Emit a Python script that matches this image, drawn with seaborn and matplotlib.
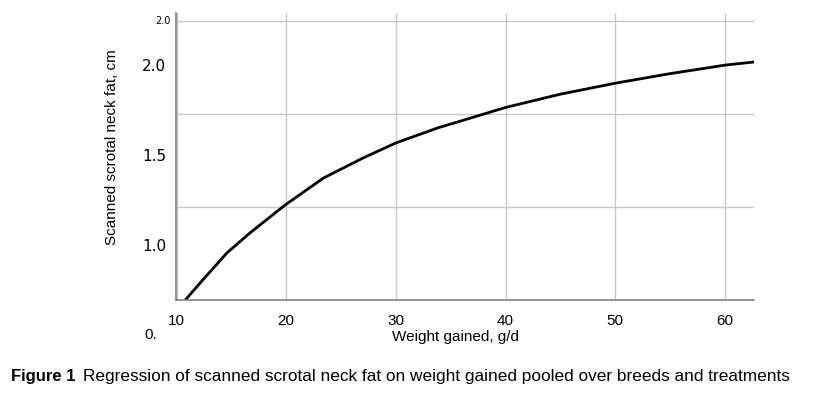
import numpy as np
import pandas as pd
import seaborn as sns
import matplotlib.pyplot as plt

# 数据
weight_gain = [10.8, 12.4, 14.6, 16.7, 19.9, 23.4, 27.0, 30.0, 33.8, 35.0, 40.0, 45.0, 50.1, 55.0, 60.1, 62.7]
neck_fat = [0.694, 0.806, 0.956, 1.067, 1.222, 1.372, 1.483, 1.567, 1.650, 1.672, 1.764, 1.838, 1.900, 1.952, 2.000, 2.017]
x_ticks = [10, 20, 30, 40, 50, 60]
y_ticks = [1.0, 1.5, 2.0]
y_tick_labels = ['1.0', '1.5', '2.0']

df = pd.DataFrame({'gain': weight_gain, 'fat': neck_fat})

sns.set_style('white')
plt.rcParams['font.family'] = ['Liberation Sans', 'DejaVu Sans']
plt.rcParams['text.color'] = 'black'
plt.rcParams['axes.labelcolor'] = 'black'
plt.rcParams['xtick.color'] = 'black'
plt.rcParams['ytick.color'] = 'black'

fig = plt.figure(figsize=(8.14, 3.95), dpi=100)
ax = fig.add_axes([0.2162, 0.2405, 0.7101, 0.7266])

sns.lineplot(data=df, x='gain', y='fat', color='black', linewidth=2.0, ax=ax)

ymin, ymax = 0.694, 2.289
ax.set_xlim(9.95, 62.65)
ax.set_ylim(ymin, ymax)

# 网格线
ax.set_xticks(x_ticks)
ax.set_xticklabels([str(t) for t in x_ticks], fontsize=11)
ax.set_yticks(y_ticks)
ax.set_yticklabels(y_tick_labels, fontsize=11, family='DejaVu Sans')
step = (2.244 - ymin) / 3
grid_y = [ymin + step, ymin + 2 * step, ymin + 3 * step]
ax.set_yticks(grid_y, minor=True)
ax.grid(False)
ax.grid(axis='x', which='major', color='#c8c8c8', linewidth=1.0)
ax.grid(axis='y', which='minor', color='#c8c8c8', linewidth=1.0)
ax.tick_params(axis='both', which='both', length=0)
ax.tick_params(axis='x', pad=10)
ax.tick_params(axis='y', pad=7)

for s in ['top', 'right']:
    ax.spines[s].set_visible(False)
for s in ['left', 'bottom']:
    ax.spines[s].set_color('#808080')
    ax.spines[s].set_linewidth(1.2)

ax.text(-0.01, grid_y[2], '2.0', transform=ax.get_yaxis_transform(), ha='right', va='center',
        fontsize=7, family='DejaVu Sans')
ax.text(-0.033, 0.5, '0.', transform=ax.get_yaxis_transform(), ha='right', va='center',
        fontsize=11, clip_on=False)

ax.set_ylabel('Scanned scrotal neck fat, cm', fontsize=11, va='center')
ax.yaxis.set_label_coords(-0.111, 0.533)
ax.set_xlabel('Weight gained, g/d', fontsize=11, va='center')
ax.xaxis.set_label_coords(0.483, -0.13)

fig.text(11 / 814, 1 - 376 / 395, 'Figure 1', fontsize=12, fontweight='bold', va='center')
fig.text(83 / 814, 1 - 376 / 395,
         'Regression of scanned scrotal neck fat on weight gained pooled over breeds and treatments',
         fontsize=12.4, va='center')

plt.savefig('out.png', dpi=100)
